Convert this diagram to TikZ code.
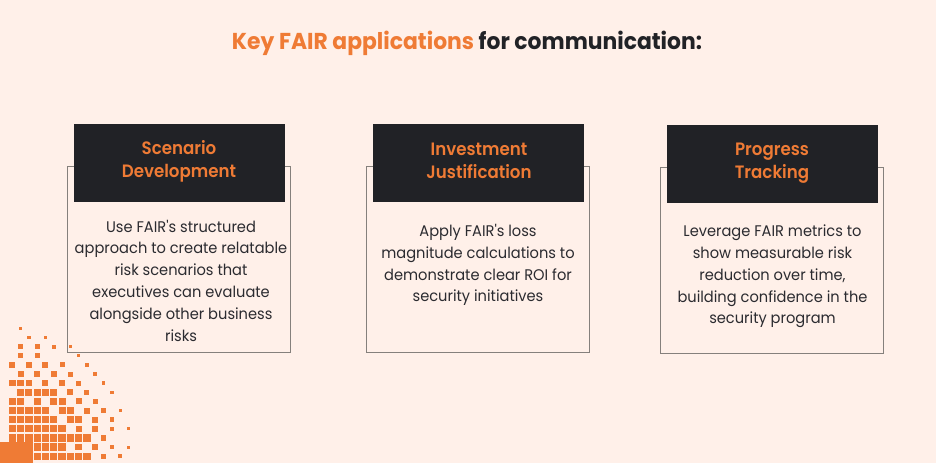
\documentclass[tikz,border=0pt]{standalone}
\usepackage{fontspec}
\newfontfamily\jostish[FakeStretch=0.95]{Poppins}
\newfontfamily\jostmed[FakeStretch=0.93]{Poppins SemiBold}
\definecolor{pagebg}{HTML}{FFF0E9}
\definecolor{fairorange}{HTML}{EF7B35}
\definecolor{headdark}{HTML}{212226}
\definecolor{bodyink}{HTML}{2B2B30}
\definecolor{cardline}{HTML}{85807C}
\tikzset{
  cardbox/.style={draw=cardline,line width=1pt,minimum width=223pt,minimum height=186pt,inner sep=0pt},
  headbox/.style={fill=headdark,minimum width=211pt,minimum height=78pt,inner sep=0pt},
  headtext/.style={text=fairorange,inner sep=0pt,align=center,font=\jostmed\fontsize{17.9}{23}\selectfont},
  bodytext/.style={text=bodyink,align=center,inner sep=0pt,font=\jostish\fontsize{15.4}{21.8}\selectfont},
  pix/.style={fill=fairorange}
}
\begin{document}
\begin{tikzpicture}[x=1pt,y=-1pt]
    \useasboundingbox (0,0) rectangle (936,463);
    \fill[pagebg] (0,0) rectangle (936,463);
    %% title
    \node (title) [inner sep=0pt,font=\jostish\fontsize{23}{24}\selectfont\bfseries] at (467,43)
        {\textcolor{fairorange}{Key FAIR applications} \textcolor{headdark}{for communication:}};
    %% cards
    \node (scenariocard) [cardbox] at (179,259) {};
    \node (scenariohead) [headbox] at (179.5,163) {};
    \node (scenariolabel) [headtext] at (179,161.5) {Scenario\\Development};
    \node (scenariotext) [bodytext] at (181,280.5) {Use FAIR's structured\\approach to create relatable\\risk scenarios that\\executives can evaluate\\alongside other business\\risks};
    \node (investcard) [cardbox] at (478,259) {};
    \node (investhead) [headbox] at (478.5,163) {};
    \node (investlabel) [headtext] at (479,160.5) {Investment\\Justification};
    \node (investtext) [bodytext] at (478,265) {Apply FAIR's loss\\magnitude calculations to\\demonstrate clear ROI for\\security initiatives};
    \node (progresscard) [cardbox] at (772,260) {};
    \node (progresshead) [headbox] at (772.5,164) {};
    \node (progresslabel) [headtext] at (772,163) {Progress\\Tracking};
    \node (progresstext) [bodytext] at (772.5,276.5) {Leverage FAIR metrics to\\show measurable risk\\reduction over time,\\building confidence in the\\security program};
    %% corner pattern: row / square size / columns
    \foreach \r/\s/\cols in {
        0/3.5/{1}, 1/3.5/{2,4}, 2/5/{1,3}, 2/4/{5}, 2/3/{7}, 3/5/{1,3}, 3/3.5/{8},
        4/6/{0,2,4}, 4/5/{6}, 4/3.5/{9}, 5/6/{1,3,5}, 5/5/{7}, 5/3.5/{10},
        6/6.5/{0,1,2}, 6/6/{4,6}, 6/5/{8}, 6/3.5/{11},
        7/7/{1,2,3,4,5}, 7/6/{7}, 7/5/{9}, 7/3.5/{12},
        8/7/{0,1}, 8/7/{3,5,6}, 8/6/{8}, 8/5/{10},
        9/7.3/{0,1,2,3,4}, 9/7/{6,7}, 9/6/{9}, 9/4.5/{11}, 9/3/{13},
        10/7.3/{0,1,2,3,4,5}, 10/7/{7,8}, 10/6/{10}, 10/4.5/{12},
        11/7.3/{0,1,2,3,4,5,6}, 11/6/{8}, 11/6/{10}, 11/4.5/{12}, 11/3/{14},
        12/7.3/{0,1,2,3,4,5,6,7,8,9}, 12/5.5/{11},
        13/7.3/{0,1,2,3,4,5,6}, 13/6.5/{8}, 13/6/{10}, 13/4.5/{12}, 13/3/{14},
        14/7.3/{2,3,4,5,6,7,8,9}, 14/5.5/{11}, 14/4/{13}} {
      \foreach \c in \cols {
        \fill[pix] ({12.3+8.29*\c-\s/2},{328.3+9.14*\r-\s/2}) rectangle +(\s,\s);
      }
    }
    \fill[pix] (0,442) rectangle (33,463);
\end{tikzpicture}
\end{document}
